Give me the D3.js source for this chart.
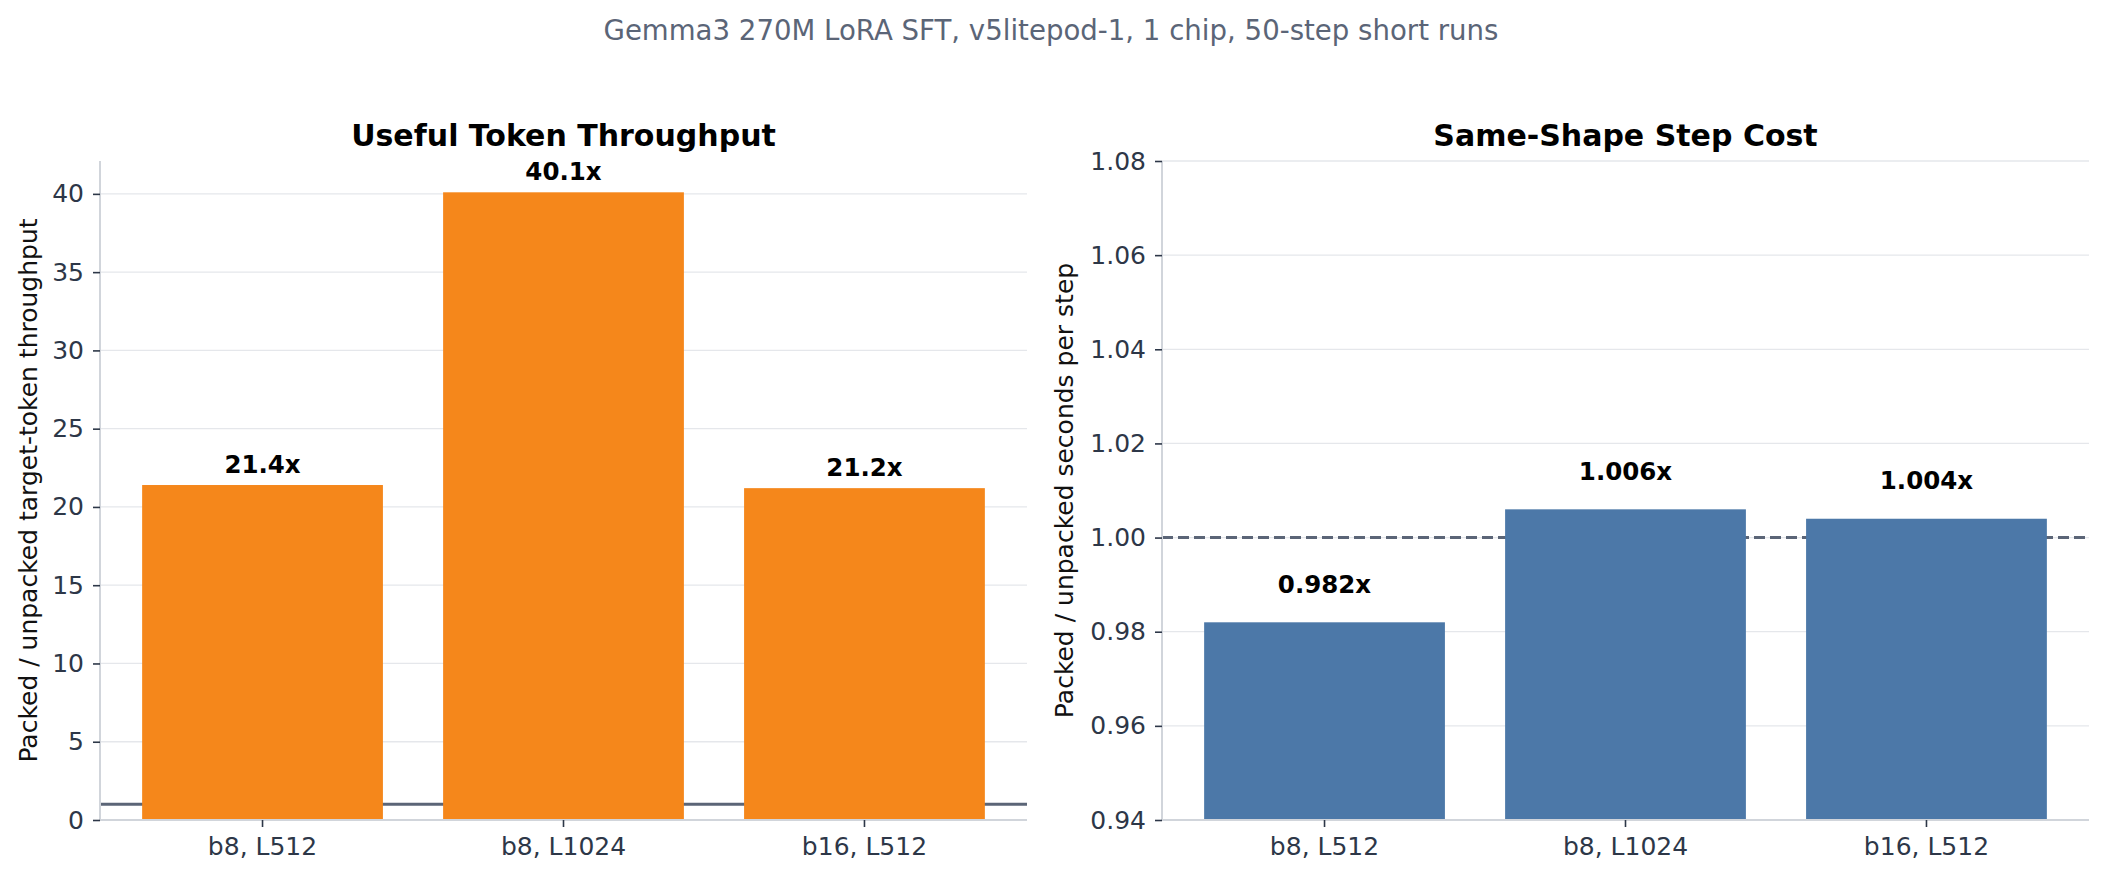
<!DOCTYPE html>
<html>
<head>
<meta charset="utf-8">
<script src="https://cdn.jsdelivr.net/npm/d3@7"></script>
<style>
  body { margin: 0; background: #fff; }
  svg text { font-family: "DejaVu Sans", sans-serif; }
</style>
</head>
<body>
<div id="chart"></div>
<script>
// data
const configs = ["b8, L512", "b8, L1024", "b16, L512"];
const throughput_ratio = [21.4, 40.1, 21.2];
const step_cost_ratio = [0.982, 1.006, 1.004];
const throughput_ticks = [0, 5, 10, 15, 20, 25, 30, 35, 40];
const step_cost_ticks = [0.94, 0.96, 0.98, 1.00, 1.02, 1.04, 1.06, 1.08];

const W = 2104, H = 879;
const top_y = 161, bottom_y = 820;

const svg = d3.select("#chart").append("svg")
  .attr("width", W).attr("height", H);

svg.append("text")
  .attr("x", 1051).attr("y", 40)
  .attr("text-anchor", "middle")
  .attr("font-size", 27.6)
  .attr("fill", "#5b6577")
  .text("Gemma3 270M LoRA SFT, v5litepod-1, 1 chip, 50-step short runs");

function drawPanel(opt) {
  let x = d3.scaleBand()
    .domain(configs)
    .range([opt.left, opt.right])
    .paddingInner(0.2)
    .paddingOuter(0.14);
  let y = d3.scaleLinear().domain(opt.domain).range([bottom_y, top_y]);

  let g = svg.append("g");

  // grid
  g.selectAll(".grid")
    .data(opt.ticks)
    .enter().append("line")
      .attr("x1", opt.left).attr("x2", opt.right)
      .attr("y1", d => y(d)).attr("y2", d => y(d))
      .attr("stroke", "#e5e7eb")
      .attr("stroke-width", 1.3);

  // reference line at 1.0
  g.append("line")
    .attr("x1", opt.left).attr("x2", opt.right)
    .attr("y1", y(1)).attr("y2", y(1))
    .attr("stroke", "#5b6577")
    .attr("stroke-width", 3)
    .attr("stroke-dasharray", opt.dashed ? "11,5" : null);

  g.selectAll(".bar")
    .data(opt.values)
    .enter().append("rect")
      .attr("x", (d, i) => x(configs[i]))
      .attr("y", d => y(d))
      .attr("width", x.bandwidth())
      .attr("height", d => bottom_y - y(d))
      .attr("fill", opt.color);

  g.selectAll(".val")
    .data(opt.values)
    .enter().append("text")
      .attr("x", (d, i) => x(configs[i]) + x.bandwidth() / 2)
      .attr("y", d => y(d + opt.labelPad) - 5.8)
      .attr("text-anchor", "middle")
      .attr("font-size", 24.5)
      .attr("font-weight", "bold")
      .attr("fill", "#000")
      .text(d => opt.fmt(d) + "x");

  // axes
  let yAxis = g.append("g")
    .attr("transform", "translate(" + opt.left + ",0)")
    .call(d3.axisLeft(y).tickValues(opt.ticks).tickFormat(opt.tickFmt)
      .tickSize(7).tickPadding(9));
  let xAxis = g.append("g")
    .attr("transform", "translate(0," + bottom_y + ")")
    .call(d3.axisBottom(x).tickSize(7).tickPadding(10));

  [yAxis, xAxis].forEach(function(a) {
    a.select(".domain").attr("stroke", "#d1d5db").attr("stroke-width", 2);
    a.selectAll(".tick line").attr("stroke", "#2d3748").attr("stroke-width", 1.6);
    a.selectAll(".tick text")
      .attr("font-size", 25)
      .attr("fill", "#2d3748")
      .attr("font-family", "DejaVu Sans");
  });
  yAxis.select(".domain").attr("d", "M0," + bottom_y + "V" + top_y);
  xAxis.select(".domain").attr("d", "M" + opt.left + ",0H" + opt.right);

  g.append("text")
    .attr("x", (opt.left + opt.right) / 2).attr("y", 146)
    .attr("text-anchor", "middle")
    .attr("font-size", 30)
    .attr("font-weight", "bold")
    .attr("fill", "#000")
    .text(opt.title);

  g.append("text")
    .attr("transform", "translate(" + opt.ylabelX + "," + (top_y + bottom_y) / 2 + ") rotate(-90)")
    .attr("text-anchor", "middle")
    .attr("font-size", 25)
    .attr("fill", "#111")
    .text(opt.ylabel);
}

drawPanel({
  left: 100, right: 1027,
  domain: [0, 42.1],
  ticks: throughput_ticks,
  tickFmt: d3.format("d"),
  values: throughput_ratio,
  fmt: d3.format(".1f"),
  labelPad: 0.4,
  color: "#f5871b",
  dashed: false,
  title: "Useful Token Throughput",
  ylabel: "Packed / unpacked target-token throughput",
  ylabelX: 37
});

drawPanel({
  left: 1162, right: 2089,
  domain: [0.94, 1.08],
  ticks: step_cost_ticks,
  tickFmt: d3.format(".2f"),
  values: step_cost_ratio,
  fmt: d3.format(".3f"),
  labelPad: 0.005,
  color: "#4c78a8",
  dashed: true,
  title: "Same-Shape Step Cost",
  ylabel: "Packed / unpacked seconds per step",
  ylabelX: 1073
});
</script>
</body>
</html>
